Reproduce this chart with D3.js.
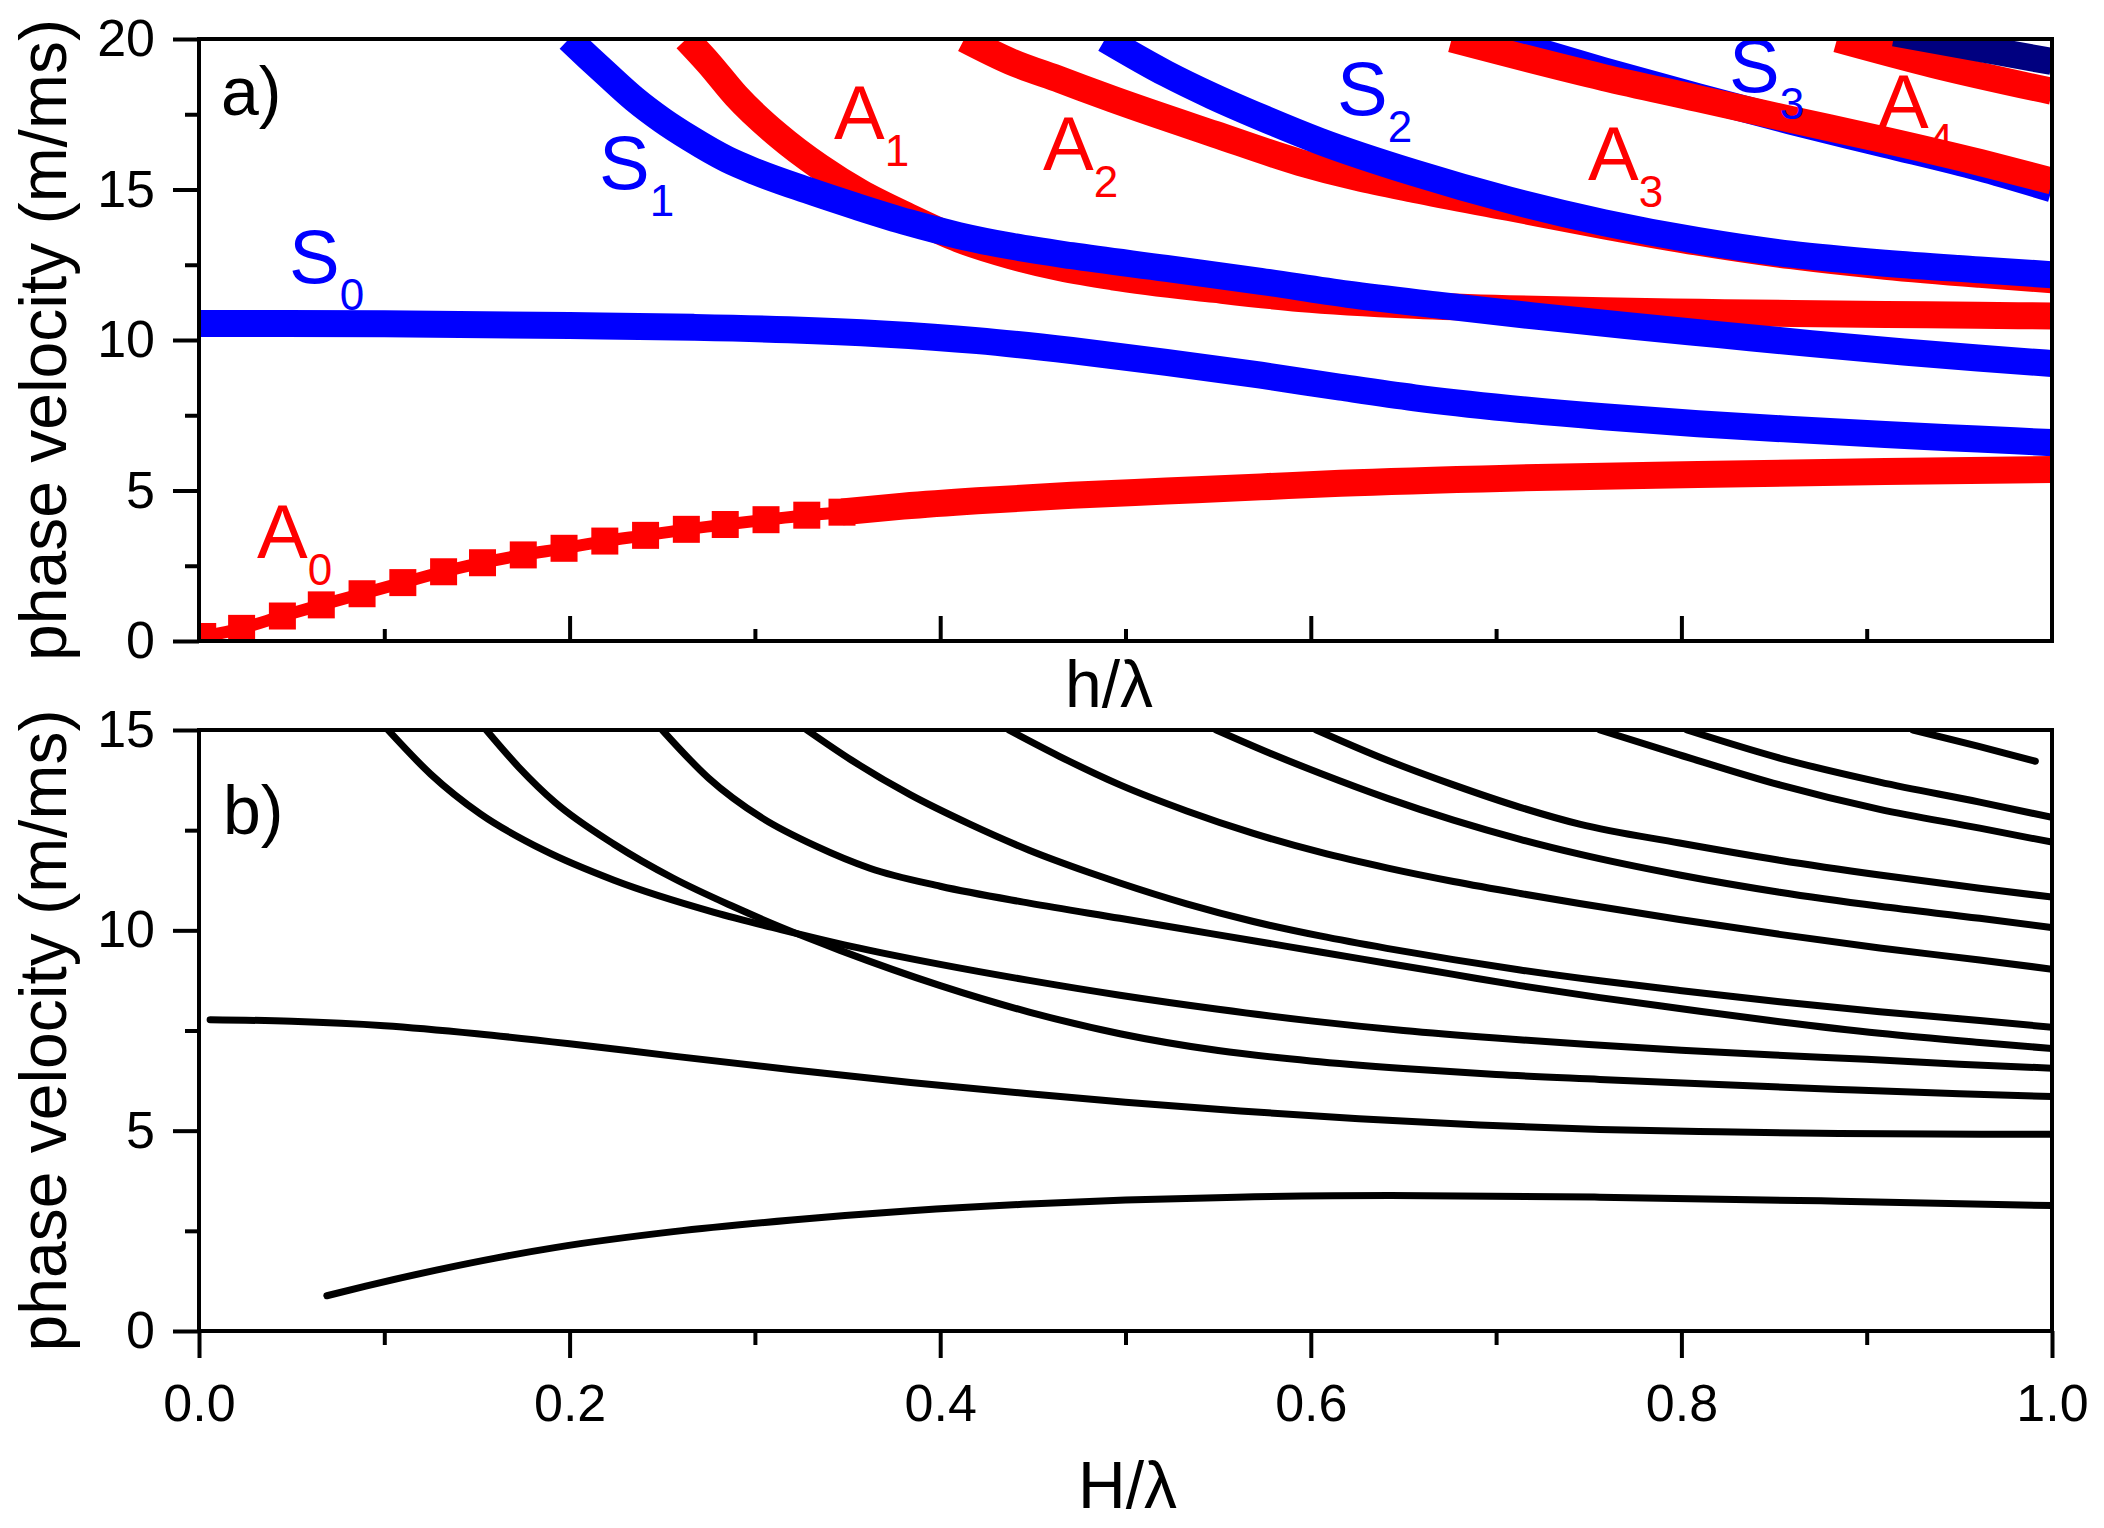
<!DOCTYPE html>
<html>
<head>
<meta charset="utf-8">
<script src="https://d3js.org/d3.v7.min.js"></script>
<style>
  body { margin: 0; background: #fff; }
  text { font-family: "Liberation Sans", Arial, sans-serif; }
</style>
</head>
<body>
<div id="chart"></div>
<script>
// ---- ticks ----
const xMajor = [0, 0.2, 0.4, 0.6, 0.8, 1.0];
const xMinor = [0.1, 0.3, 0.5, 0.7, 0.9];
const yMajorA = [0, 5, 10, 15, 20];
const yMinorA = [2.5, 7.5, 12.5, 17.5];
const yMajorB = [0, 5, 10, 15];
const yMinorB = [2.5, 7.5, 12.5];

// ---- panel a) : [h/lambda, phase velocity] ----
const a0Squares = [[0.002,0.15],[0.023,0.42],[0.045,0.83],[0.066,1.2],[0.088,1.57],[0.110,1.94],
  [0.132,2.3],[0.153,2.6],[0.175,2.86],[0.197,3.08],[0.219,3.32],[0.241,3.51],[0.263,3.71],
  [0.284,3.87],[0.306,4.03],[0.328,4.18],[0.347,4.28]];
const a0 = [[0.347,4.29],[0.38,4.48],[0.42,4.66],[0.471,4.84],[0.522,4.98],[0.573,5.12],[0.616,5.24],
  [0.707,5.41],[0.809,5.53],[0.91,5.63],[1.0,5.7]];
const s0 = [[0,10.55],[0.1,10.54],[0.2,10.48],[0.267,10.42],[0.318,10.34],[0.369,10.2],[0.42,9.98],
  [0.471,9.65],[0.522,9.26],[0.573,8.83],[0.616,8.43],[0.656,8.08],[0.707,7.73],[0.758,7.45],
  [0.809,7.22],[0.86,7.03],[0.91,6.86],[0.96,6.71],[1.0,6.59]];
const s1 = [[0.1996,20.0],[0.21,19.4],[0.22,18.83],[0.235,18.0],[0.25,17.3],[0.265,16.7],[0.285,16.0],
  [0.3,15.6],[0.328,14.98],[0.355,14.43],[0.383,13.9],[0.41,13.47],[0.438,13.12],[0.471,12.8],
  [0.522,12.38],[0.573,11.95],[0.62,11.52],[0.67,11.15],[0.72,10.8],[0.77,10.48],[0.82,10.18],
  [0.87,9.88],[0.92,9.6],[0.96,9.4],[1.0,9.22]];
const a1 = [[0.263,20.0],[0.275,19.2],[0.29,18.1],[0.3125,16.8],[0.335,15.75],[0.357,14.9],[0.383,14.1],
  [0.41,13.35],[0.438,12.8],[0.465,12.4],[0.493,12.1],[0.548,11.68],[0.594,11.38],[0.656,11.15],
  [0.707,11.04],[0.758,10.97],[0.81,10.92],[0.86,10.88],[0.91,10.85],[0.96,10.82],[1.0,10.8]];
const a2 = [[0.413,20.0],[0.438,19.25],[0.465,18.64],[0.493,18.0],[0.548,16.84],[0.594,15.9],[0.625,15.4],
  [0.656,15.0],[0.707,14.4],[0.758,13.8],[0.809,13.25],[0.859,12.8],[0.91,12.45],[0.961,12.18],[1.0,12.0]];
const s2 = [[0.489,20.0],[0.522,18.85],[0.547,18.1],[0.573,17.4],[0.605,16.6],[0.656,15.55],[0.707,14.65],
  [0.758,13.9],[0.809,13.3],[0.859,12.85],[0.91,12.55],[0.961,12.33],[1.0,12.17]];
const s3 = [[0.70,20.0],[0.758,18.95],[0.809,18.08],[0.859,17.27],[0.91,16.5],[0.961,15.72],[1.0,15.02]];
const a3 = [[0.676,20.0],[0.758,18.72],[0.809,18.02],[0.859,17.33],[0.91,16.64],[0.961,15.9],[1.0,15.28]];
const a4 = [[0.884,20.0],[0.936,19.15],[1.0,18.26]];
const s4 = [[0.915,20.2],[1.0,19.25]];

// mode names and where they sit (data units)
const modeLabels = [
  {main: "A", sub: "0", kind: "A", x: 0.0313, y: 2.76},
  {main: "S", sub: "0", kind: "S", x: 0.0486, y: 11.89},
  {main: "S", sub: "1", kind: "S", x: 0.2159, y: 15.02},
  {main: "A", sub: "1", kind: "A", x: 0.3427, y: 16.68},
  {main: "A", sub: "2", kind: "A", x: 0.4555, y: 15.65},
  {main: "S", sub: "2", kind: "S", x: 0.6141, y: 17.48},
  {main: "A", sub: "3", kind: "A", x: 0.7496, y: 15.32},
  {main: "S", sub: "3", kind: "S", x: 0.8257, y: 18.24},
  {main: "A", sub: "4", kind: "A", x: 0.9061, y: 17.04}
];

// ---- panel b) : [H/lambda, phase velocity] ----
const b1 = [[0.069,0.88],[0.09,1.12],[0.128,1.52],[0.16,1.82],[0.192,2.08],[0.256,2.48],[0.32,2.77],
  [0.384,3.0],[0.448,3.17],[0.5,3.27],[0.56,3.34],[0.643,3.38],[0.756,3.34],[0.885,3.24],[1.0,3.13]];
const b2 = [[0.006,7.77],[0.05,7.73],[0.1,7.62],[0.15,7.42],[0.2,7.17],[0.256,6.86],[0.32,6.52],
  [0.384,6.2],[0.448,5.92],[0.5,5.71],[0.562,5.49],[0.626,5.3],[0.691,5.14],[0.756,5.03],
  [0.82,4.97],[0.885,4.93],[1.0,4.91]];
const b3 = [[0.102,15.0],[0.125,13.9],[0.152,12.9],[0.186,12.0],[0.224,11.25],[0.278,10.45],[0.314,10.02],
  [0.352,9.6],[0.40,9.15],[0.448,8.75],[0.497,8.38],[0.55,8.03],[0.6,7.74],[0.65,7.5],[0.7,7.31],
  [0.75,7.15],[0.8,7.01],[0.85,6.89],[0.9,6.78],[0.95,6.66],[1.0,6.56]];
const b4 = [[0.155,15.0],[0.173,14.05],[0.192,13.2],[0.224,12.15],[0.256,11.3],[0.288,10.6],[0.314,10.08],
  [0.346,9.5],[0.40,8.62],[0.448,7.96],[0.497,7.42],[0.55,7.0],[0.6,6.74],[0.65,6.55],[0.7,6.4],
  [0.756,6.28],[0.82,6.15],[0.885,6.03],[0.95,5.92],[1.0,5.85]];
const b5 = [[0.25,15.0],[0.275,13.8],[0.304,12.8],[0.333,12.1],[0.362,11.55],[0.40,11.1],[0.448,10.68],
  [0.497,10.3],[0.533,10.02],[0.569,9.74],[0.605,9.46],[0.641,9.18],[0.677,8.9],[0.713,8.62],
  [0.756,8.32],[0.799,8.05],[0.853,7.72],[0.907,7.43],[0.961,7.2],[1.0,7.05]];
const b6 = [[0.328,15.0],[0.352,14.25],[0.384,13.38],[0.416,12.65],[0.448,12.0],[0.48,11.45],[0.497,11.18],
  [0.533,10.66],[0.569,10.22],[0.605,9.86],[0.641,9.55],[0.677,9.27],[0.713,9.01],[0.756,8.74],
  [0.799,8.5],[0.853,8.22],[0.907,7.97],[0.961,7.75],[1.0,7.58]];
const b7 = [[0.437,15.0],[0.464,14.35],[0.497,13.63],[0.533,12.98],[0.569,12.42],[0.605,11.95],[0.641,11.56],
  [0.677,11.22],[0.713,10.92],[0.745,10.67],[0.799,10.27],[0.853,9.9],[0.907,9.56],[0.961,9.26],[1.0,9.03]];
const b8 = [[0.549,15.0],[0.578,14.42],[0.605,13.92],[0.641,13.3],[0.677,12.75],[0.713,12.27],[0.745,11.9],
  [0.799,11.38],[0.853,10.95],[0.907,10.6],[0.961,10.3],[1.0,10.07]];
const b9 = [[0.603,15.0],[0.641,14.25],[0.677,13.63],[0.713,13.07],[0.745,12.65],[0.799,12.18],[0.853,11.75],
  [0.907,11.38],[0.961,11.05],[1.0,10.83]];
const b10 = [[0.756,15.0],[0.799,14.38],[0.853,13.63],[0.907,13.02],[0.961,12.55],[1.0,12.2]];
const b11 = [[0.803,15.0],[0.853,14.3],[0.907,13.7],[0.961,13.2],[1.0,12.82]];
const b12 = [[0.925,15.0],[0.96,14.6],[0.991,14.22]];

// ---- layout ----
const W = 2104, H = 1528;
const plotLeft = 199, plotRight = 2052;
const panelA = {top: 39, bottom: 641};
const panelB = {top: 730, bottom: 1331};
const RED = "#ff0000", BLUE = "#0000ff", NAVY = "#000080";

const svg = d3.select("#chart").append("svg")
    .attr("width", W)
    .attr("height", H);

const x = d3.scaleLinear().domain([0, 1]).range([plotLeft, plotRight]);
const yA = d3.scaleLinear().domain([0, 20]).range([panelA.bottom, panelA.top]);
const yB = d3.scaleLinear().domain([0, 15]).range([panelB.bottom, panelB.top]);

// clip paths for each panel
const defs = svg.append("defs");
[["clipA", panelA], ["clipB", panelB]].forEach(([id, p]) => {
  defs.append("clipPath").attr("id", id)
    .append("rect")
      .attr("x", plotLeft).attr("y", p.top)
      .attr("width", plotRight - plotLeft).attr("height", p.bottom - p.top);
});

function styleAxis(g) {
  g.select(".domain").remove();
  g.selectAll("line").attr("stroke", "#000").attr("stroke-width", 4);
  g.selectAll("text").attr("font-size", 52).attr("fill", "#000")
    .attr("font-family", '"Liberation Sans", Arial, sans-serif');
  g.attr("font-family", null).attr("font-size", null);
}

// ======== panel a) ========
const lineA = d3.line().x(d => x(d[0])).y(d => yA(d[1])).curve(d3.curveMonotoneX);
const curvesA = svg.append("g").attr("clip-path", "url(#clipA)");

// order matters: blue drawn over red where they touch, except A3 over S3
const bandsA = [
  [a1, RED], [s1, BLUE], [a2, RED], [s2, BLUE],
  [s3, BLUE], [a3, RED], [a4, RED], [s4, NAVY],
  [s0, BLUE], [a0, RED]
];
bandsA.forEach(([data, color]) => {
  curvesA.append("path")
    .datum(data)
    .attr("fill", "none")
    .attr("stroke", color)
    .attr("stroke-width", 27)
    .attr("stroke-linejoin", "round")
    .attr("d", lineA);
});

// A0 at small h/lambda: line with square symbols
curvesA.append("path")
  .datum(a0Squares)
  .attr("fill", "none")
  .attr("stroke", RED)
  .attr("stroke-width", 12)
  .attr("d", lineA);
curvesA.selectAll(".sq")
  .data(a0Squares)
  .enter().append("rect")
    .attr("class", "sq")
    .attr("x", d => x(d[0]) - 13.5)
    .attr("y", d => yA(d[1]) - 13.5)
    .attr("width", 27)
    .attr("height", 27)
    .attr("fill", RED);

// mode labels
modeLabels.forEach(d => {
  const t = svg.append("text")
    .attr("x", x(d.x))
    .attr("y", yA(d.y))
    .attr("fill", d.kind === "S" ? BLUE : RED)
    .attr("font-size", 76);
  t.append("tspan").text(d.main);
  t.append("tspan").attr("dy", 27).attr("font-size", 44).text(d.sub);
});

// axes a)
svg.append("g")
  .attr("transform", `translate(${plotLeft},0)`)
  .call(d3.axisLeft(yA).tickValues(yMajorA).tickSize(26).tickPadding(18).tickFormat(d3.format("d")))
  .call(styleAxis);
svg.append("g")
  .attr("transform", `translate(${plotLeft},0)`)
  .call(d3.axisLeft(yA).tickValues(yMinorA).tickSize(14).tickFormat(""))
  .call(styleAxis);
svg.append("g")
  .attr("transform", `translate(0,${panelA.bottom})`)
  .call(d3.axisBottom(x).tickValues(xMajor.slice(1, -1)).tickSize(-25).tickFormat(""))
  .call(styleAxis);
svg.append("g")
  .attr("transform", `translate(0,${panelA.bottom})`)
  .call(d3.axisBottom(x).tickValues(xMinor).tickSize(-12).tickFormat(""))
  .call(styleAxis);

svg.append("rect")
  .attr("x", plotLeft).attr("y", panelA.top)
  .attr("width", plotRight - plotLeft).attr("height", panelA.bottom - panelA.top)
  .attr("fill", "none").attr("stroke", "#000").attr("stroke-width", 4);

svg.append("text")
  .attr("x", 221).attr("y", 115)
  .attr("font-size", 68)
  .text("a)");

svg.append("text")
  .attr("transform", `translate(66,${(panelA.top + panelA.bottom) / 2}) rotate(-90)`)
  .attr("text-anchor", "middle")
  .attr("font-size", 66)
  .text("phase velocity (m/ms)");

svg.append("text")
  .attr("x", 1065).attr("y", 707)
  .attr("font-size", 66)
  .text("h/λ");

// ======== panel b) ========
const lineB = d3.line().x(d => x(d[0])).y(d => yB(d[1])).curve(d3.curveMonotoneX);
const curvesB = svg.append("g").attr("clip-path", "url(#clipB)");
[b1, b2, b3, b4, b5, b6, b7, b8, b9, b10, b11, b12].forEach(data => {
  curvesB.append("path")
    .datum(data)
    .attr("fill", "none")
    .attr("stroke", "#000")
    .attr("stroke-width", 7)
    .attr("stroke-linecap", "round")
    .attr("stroke-linejoin", "round")
    .attr("d", lineB);
});

svg.append("g")
  .attr("transform", `translate(${plotLeft},0)`)
  .call(d3.axisLeft(yB).tickValues(yMajorB).tickSize(26).tickPadding(18).tickFormat(d3.format("d")))
  .call(styleAxis);
svg.append("g")
  .attr("transform", `translate(${plotLeft},0)`)
  .call(d3.axisLeft(yB).tickValues(yMinorB).tickSize(14).tickFormat(""))
  .call(styleAxis);
svg.append("g")
  .attr("transform", `translate(0,${panelB.bottom})`)
  .call(d3.axisBottom(x).tickValues(xMajor).tickSize(27).tickPadding(26).tickFormat(d3.format(".1f")))
  .call(styleAxis);
svg.append("g")
  .attr("transform", `translate(0,${panelB.bottom})`)
  .call(d3.axisBottom(x).tickValues(xMinor).tickSize(14).tickFormat(""))
  .call(styleAxis);

svg.append("rect")
  .attr("x", plotLeft).attr("y", panelB.top)
  .attr("width", plotRight - plotLeft).attr("height", panelB.bottom - panelB.top)
  .attr("fill", "none").attr("stroke", "#000").attr("stroke-width", 4);

svg.append("text")
  .attr("x", 223).attr("y", 834)
  .attr("font-size", 68)
  .text("b)");

svg.append("text")
  .attr("transform", `translate(66,${(panelB.top + panelB.bottom) / 2}) rotate(-90)`)
  .attr("text-anchor", "middle")
  .attr("font-size", 66)
  .text("phase velocity (m/ms)");

svg.append("text")
  .attr("x", 1078).attr("y", 1508)
  .attr("font-size", 66)
  .text("H/λ");
</script>
</body>
</html>
